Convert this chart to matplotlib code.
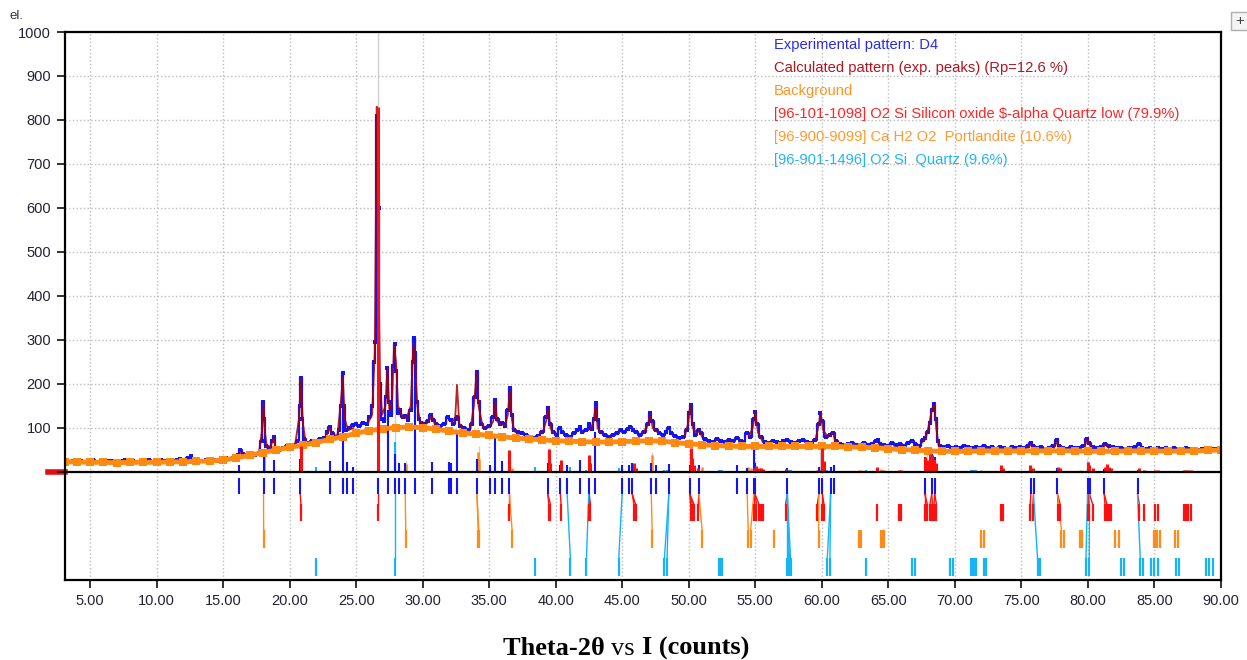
import numpy as np
import matplotlib.pyplot as plt
from matplotlib.patches import Rectangle
from matplotlib.transforms import blended_transform_factory

plt.rcParams['font.family'] = ['Liberation Sans', 'DejaVu Sans']

# experimental pattern (2theta, counts)
exp_points = [
    (3.1, 24), (3.4, 22), (3.7, 25), (4.0, 23), (4.3, 26), (4.6, 22), (4.9, 24), (5.2, 27),
    (5.5, 23), (5.8, 25), (6.1, 22), (6.4, 26), (6.7, 24), (7.0, 21), (7.3, 25), (7.6, 27),
    (7.9, 23), (8.2, 25), (8.5, 22), (8.8, 26), (9.1, 24), (9.4, 27), (9.7, 23), (10.0, 25),
    (10.3, 28), (10.6, 24), (10.9, 26), (11.2, 23), (11.5, 27), (11.8, 29), (12.1, 25),
    (12.4, 31), (12.6, 36), (12.8, 28), (13.1, 26), (13.4, 24), (13.7, 27), (14.0, 25),
    (14.3, 28), (14.6, 26), (14.9, 29), (15.2, 31), (15.5, 30), (15.8, 34), (16.1, 38),
    (16.3, 50), (16.5, 40), (16.8, 37), (17.1, 41), (17.4, 39), (17.7, 44), (17.9, 70),
    (18.0, 160), (18.1, 120), (18.25, 60), (18.5, 52), (18.7, 70), (18.8, 80), (18.95, 55),
    (19.2, 51), (19.5, 55), (19.8, 58), (20.1, 57), (20.4, 62), (20.6, 70), (20.75, 150),
    (20.85, 214), (20.95, 120), (21.1, 75), (21.4, 66), (21.7, 70), (22.0, 68), (22.3, 74),
    (22.6, 78), (22.8, 92), (23.0, 103), (23.2, 88), (23.5, 80), (23.7, 95), (23.85, 150),
    (24.0, 224), (24.1, 150), (24.25, 95), (24.5, 100), (24.8, 106), (25.0, 110), (25.2, 104),
    (25.5, 112), (25.8, 108), (26.0, 125), (26.2, 150), (26.35, 250), (26.45, 296),
    (26.6, 810), (26.7, 600), (26.8, 200), (26.95, 120), (27.1, 115), (27.25, 170),
    (27.35, 236), (27.45, 160), (27.6, 130), (27.8, 240), (27.9, 290), (28.0, 230),
    (28.15, 135), (28.3, 140), (28.5, 125), (28.7, 128), (28.9, 118), (29.1, 140),
    (29.25, 250), (29.35, 304), (29.45, 270), (29.6, 160), (29.75, 120), (29.9, 112),
    (30.1, 108), (30.4, 115), (30.6, 130), (30.8, 118), (31.0, 110), (31.3, 104), (31.6, 108),
    (31.9, 125), (32.1, 118), (32.3, 110), (32.5, 120), (32.6, 125), (32.8, 105), (33.1, 100),
    (33.4, 95), (33.7, 110), (33.9, 170), (34.05, 228), (34.2, 160), (34.4, 110), (34.7, 100),
    (35.0, 105), (35.3, 125), (35.45, 164), (35.6, 120), (35.8, 108), (36.0, 112), (36.2, 105),
    (36.4, 140), (36.55, 190), (36.7, 130), (36.9, 95), (37.2, 90), (37.5, 88), (37.8, 84),
    (38.1, 80), (38.4, 78), (38.7, 82), (39.0, 90), (39.3, 125), (39.45, 145), (39.6, 110),
    (39.8, 90), (40.1, 85), (40.3, 100), (40.5, 92), (40.8, 85), (41.1, 80), (41.4, 88),
    (41.6, 95), (41.85, 103), (42.0, 90), (42.3, 95), (42.5, 108), (42.7, 98), (42.9, 120),
    (43.0, 156), (43.15, 118), (43.4, 90), (43.7, 85), (44.0, 80), (44.3, 84), (44.6, 88),
    (44.9, 96), (45.1, 92), (45.4, 98), (45.6, 103), (45.8, 96), (46.0, 90), (46.3, 85),
    (46.6, 92), (46.9, 110), (47.1, 133), (47.25, 115), (47.5, 95), (47.8, 88), (48.1, 85),
    (48.3, 92), (48.5, 99), (48.7, 88), (49.0, 82), (49.3, 78), (49.6, 80), (49.9, 95),
    (50.05, 135), (50.15, 152), (50.3, 110), (50.5, 85), (50.75, 95), (50.9, 88), (51.2, 76),
    (51.5, 70), (51.8, 68), (52.1, 74), (52.4, 70), (52.7, 68), (53.0, 72), (53.3, 70),
    (53.6, 77), (53.9, 70), (54.1, 68), (54.4, 88), (54.6, 80), (54.9, 120), (55.0, 137),
    (55.15, 110), (55.4, 80), (55.7, 68), (56.0, 66), (56.3, 70), (56.6, 68), (56.9, 66),
    (57.1, 70), (57.4, 73), (57.7, 68), (58.0, 66), (58.3, 70), (58.6, 72), (58.9, 68),
    (59.2, 66), (59.5, 72), (59.75, 110), (59.9, 135), (60.05, 115), (60.3, 80), (60.6, 85),
    (60.85, 89), (61.1, 70), (61.4, 64), (61.7, 62), (62.0, 64), (62.3, 66), (62.6, 62),
    (62.9, 60), (63.2, 66), (63.5, 62), (63.8, 64), (64.1, 70), (64.2, 73), (64.4, 64),
    (64.7, 62), (65.0, 60), (65.3, 66), (65.6, 62), (65.9, 64), (66.2, 60), (66.5, 66),
    (66.8, 70), (67.0, 64), (67.3, 60), (67.6, 72), (67.75, 77), (67.95, 90), (68.1, 111),
    (68.3, 140), (68.4, 154), (68.55, 120), (68.7, 70), (68.9, 60), (69.2, 56), (69.5, 58),
    (69.8, 55), (70.1, 57), (70.4, 54), (70.7, 58), (71.0, 56), (71.3, 54), (71.6, 57),
    (71.9, 55), (72.2, 58), (72.5, 54), (72.8, 56), (73.1, 53), (73.4, 57), (73.7, 55),
    (74.0, 53), (74.3, 56), (74.6, 54), (74.9, 56), (75.2, 55), (75.5, 58), (75.7, 65),
    (75.9, 58), (76.2, 54), (76.5, 56), (76.8, 53), (77.1, 55), (77.4, 58), (77.65, 73),
    (77.85, 60), (78.1, 55), (78.4, 53), (78.7, 56), (79.0, 54), (79.3, 55), (79.6, 58),
    (79.9, 75), (80.1, 65), (80.4, 56), (80.7, 54), (81.0, 57), (81.3, 64), (81.6, 60),
    (81.9, 56), (82.2, 54), (82.5, 55), (82.8, 53), (83.1, 55), (83.5, 56), (83.8, 64),
    (84.1, 55), (84.4, 53), (84.7, 55), (85.0, 52), (85.3, 54), (85.6, 52), (85.9, 54),
    (86.2, 52), (86.5, 55), (86.8, 53), (87.1, 51), (87.4, 54), (87.7, 52), (88.0, 53),
    (88.3, 51), (88.6, 53), (88.9, 52), (89.2, 54), (89.5, 52), (89.8, 53), (90.0, 52),
]

# calculated pattern, drawn around the fitted peaks
calc_segments = [
    [(15.9, 34), (16.2, 40), (16.35, 46), (16.6, 38)],
    [(17.7, 44), (17.95, 100), (18.05, 155), (18.15, 90), (18.3, 55), (18.6, 60),
     (18.8, 78), (18.95, 55), (19.2, 50)],
    [(20.4, 60), (20.7, 120), (20.85, 210), (21.0, 110), (21.2, 70), (21.5, 64)],
    [(22.6, 76), (22.8, 85), (23.0, 100), (23.2, 82), (23.6, 84), (23.85, 160), (24.0, 215),
     (24.15, 120), (24.4, 95), (24.8, 100)],
    [(25.9, 112), (26.2, 130), (26.4, 270), (26.55, 830), (26.62, 650), (26.7, 420),
     (26.8, 205), (26.95, 130), (27.2, 150), (27.35, 236), (27.5, 140), (27.7, 160),
     (27.85, 288), (28.0, 250), (28.15, 150), (28.5, 125), (28.8, 122), (29.1, 150),
     (29.3, 290), (29.45, 240), (29.6, 150), (29.8, 115), (30.1, 108)],
    [(30.3, 110), (30.55, 120), (30.7, 128), (30.9, 110), (31.2, 104)],
    [(32.2, 112), (32.45, 125), (32.58, 198), (32.75, 110), (33.0, 100)],
    [(33.6, 100), (33.85, 150), (34.05, 225), (34.2, 150), (34.5, 105), (34.8, 100)],
    [(35.1, 105), (35.3, 115), (35.45, 160), (35.6, 115), (35.9, 108), (36.2, 106),
     (36.4, 130), (36.55, 185), (36.7, 120), (36.9, 92)],
    [(39.0, 88), (39.3, 118), (39.45, 145), (39.6, 100), (39.8, 88)],
    [(42.6, 96), (42.85, 115), (43.0, 150), (43.15, 100), (43.4, 88)],
    [(46.6, 90), (46.9, 105), (47.1, 130), (47.3, 100), (47.6, 92)],
    [(49.7, 82), (49.95, 110), (50.1, 150), (50.3, 100), (50.6, 88), (50.8, 94), (51.0, 80)],
    [(54.5, 80), (54.8, 100), (55.0, 135), (55.2, 90), (55.5, 72)],
    [(59.5, 70), (59.75, 105), (59.9, 133), (60.1, 95), (60.4, 82), (60.7, 85), (60.85, 88),
     (61.0, 70)],
    [(67.5, 66), (67.8, 75), (68.0, 100), (68.3, 145), (68.45, 152), (68.6, 100), (68.8, 55)],
    [(75.5, 55), (75.7, 63), (75.85, 55)],
    [(77.45, 55), (77.65, 70), (77.8, 55)],
    [(79.75, 58), (79.95, 75), (80.15, 60), (80.3, 55)],
    [(81.1, 55), (81.35, 62), (81.55, 55)],
]

# background, one point per degree
bg_2theta = np.arange(3, 91, 1.0)
bg_2theta[0] = 3.1
bg_counts = [
    23, 23, 22, 22, 21, 22, 22, 22, 23, 23, 24, 25, 27, 32, 38, 44, 50, 56, 61, 67,
    74, 80, 88, 94, 98, 101, 102, 101, 97, 93, 89, 86, 83, 80, 77, 75, 73, 71, 70, 69,
    68, 68, 69, 70, 71, 70, 67, 64, 62, 60, 59, 58, 58, 58, 58, 58, 58, 58, 58, 57,
    56, 55, 53, 51, 50, 48, 47, 47, 47, 48, 48, 48, 48, 48, 48, 48, 48, 47, 47, 47,
    48, 48, 48, 47, 48, 48, 49, 50,
]

# experimental peak list (row 1) with stick heights
peak_pos = [16.23, 18.04, 18.79, 20.80, 23.05, 24.01, 24.31, 24.76, 26.64, 27.39, 27.89,
            28.24, 28.69, 29.39, 30.70, 31.95, 32.15, 32.58, 34.08, 35.04, 35.46, 35.97,
            36.52, 39.40, 40.35, 40.86, 41.86, 42.48, 42.99, 44.99, 45.54, 45.75, 47.18,
            47.50, 48.50, 50.08, 50.76, 53.64, 54.39, 54.89, 54.97, 57.40, 59.78, 60.04,
            60.66, 60.91, 67.73, 68.26, 68.49, 75.71, 75.91, 77.71, 79.97, 80.12, 81.22,
            83.73]
peak_h = [17, 40, 27, 30, 25, 150, 22, 12, 30, 140, 40, 21, 21, 304, 22, 22, 21, 95, 30,
          16, 80, 25, 20, 20, 15, 15, 27, 20, 92, 15, 15, 20, 20, 15, 18, 15, 15, 16, 10,
          54, 20, 10, 12, 20, 12, 15, 35, 40, 35, 8, 6, 8, 12, 10, 6, 5]

# [96-101-1098] quartz low
qlow_pos = [20.85, 26.64, 36.52, 39.48, 39.60, 40.40, 42.48, 42.61, 45.87, 46.00, 50.13,
            50.26, 50.38, 50.71, 54.89, 55.09, 55.27, 55.45, 55.60, 57.28, 59.66, 60.04,
            60.16, 64.17, 65.80, 65.98, 67.73, 67.93, 68.13, 68.31, 68.43, 68.61, 73.45,
            73.65, 75.66, 75.86, 77.76, 77.91, 79.97, 80.09, 80.35, 81.28, 81.43, 81.58,
            81.73, 83.86, 84.18, 85.03, 85.24, 87.19, 87.37, 87.54, 87.74]
qlow_h = [60, 830, 50, 52, 20, 27, 38, 20, 21, 10, 55, 32, 15, 8, 10, 13, 10, 8, 6, 6, 5,
          54, 25, 12, 4, 4, 35, 27, 40, 38, 30, 20, 16, 8, 16, 10, 12, 8, 23, 15, 8, 12,
          19, 11, 8, 9, 5, 4, 4, 5, 5, 4, 4]

# [96-900-9099] portlandite
port_pos = [18.05, 28.73, 34.17, 34.22, 36.72, 47.25, 51.00, 54.47, 54.65, 56.40, 59.76,
            62.79, 62.97, 64.42, 64.55, 64.67, 71.95, 72.19, 78.01, 78.21, 79.41, 79.59,
            82.02, 82.35, 84.98, 85.10, 85.20, 85.40, 86.54, 86.74]
port_h = [45, 18, 46, 30, 10, 39, 12, 12, 8, 4, 6, 5, 4, 6, 4, 4, 4, 3, 4, 3, 4, 3, 3, 3,
          3, 3, 3, 3, 3, 3]

# [96-901-1496] quartz
quartz_pos = [22.00, 27.89, 38.47, 41.10, 42.31, 44.74, 48.17, 48.37, 52.26, 52.34, 52.42,
              52.51, 57.40, 57.48, 57.56, 57.65, 60.41, 60.61, 63.30, 66.80, 67.00, 69.64,
              69.84, 71.20, 71.30, 71.40, 71.50, 71.60, 72.20, 72.37, 76.21, 76.41, 79.85,
              80.10, 82.48, 82.68, 83.93, 84.13, 84.74, 84.94, 85.24, 86.62, 86.87, 88.87,
              89.12, 89.37]
quartz_h = [12, 69, 11, 11, 5, 10, 4, 4, 4, 4, 4, 4, 5, 5, 5, 5, 4, 3, 4, 2, 2, 3, 3, 4, 4,
            4, 4, 4, 3, 3, 3, 3, 3, 3, 2, 2, 2, 2, 2, 2, 2, 2, 2, 2, 2, 2]

# light grey reference sticks
grey_pos = [18.1, 26.62, 27.92, 28.75, 34.2, 39.43, 47.22, 50.12, 59.85, 67.9, 79.95]
grey_h = [60, 1000, 200, 25, 60, 55, 45, 60, 50, 60, 30]

legend_lines = [
    ('Experimental pattern: D4', '#2b2be8'),
    ('Calculated pattern (exp. peaks) (Rp=12.6 %)', '#b3141e'),
    ('Background', '#ff9326'),
    ('[96-101-1098] O2 Si Silicon oxide $-alpha Quartz low (79.9%)', '#ff2626'),
    ('[96-900-9099] Ca H2 O2  Portlandite (10.6%)', '#ff9a33'),
    ('[96-901-1496] O2 Si  Quartz (9.6%)', '#22b4f5'),
]

BLUE = '#1414f0'
CALC = '#a80000'
ORANGE = '#ff8a12'
RED = '#ff1010'
PORT = '#ff8c1a'
CYAN = '#14b4f5'

rows = {'blue': (-50, -14), 'red': (-111, -73), 'port': (-173, -132), 'cyan': (-236, -196)}

fig = plt.figure(figsize=(12.47, 6.6), dpi=100)
ax = fig.add_axes([65 / 1247, 80 / 660, 1156 / 1247, 548 / 660])
ax.set_xlim(3.12, 90.0)
ax.set_ylim(-245.5, 1000)

ax.grid(True, ls=':', color='#bcbcbc', lw=1, zorder=0)
ax.axhline(0, color='black', lw=1.6, zorder=7)

# sticks above the baseline
ax.vlines(grey_pos, 0, grey_h, colors='#cfcfcf', lw=1, zorder=1)
ax.vlines(quartz_pos, 0, quartz_h, colors=CYAN, lw=1.5, zorder=2)
ax.vlines(port_pos, 0, port_h, colors=PORT, lw=1.8, zorder=2)
ax.vlines(peak_pos, 0, peak_h, colors=BLUE, lw=1.5, zorder=2)

# patterns
ex, ey = zip(*exp_points)
ax.plot(ex, ey, color=BLUE, lw=1.6, drawstyle='steps-mid', zorder=3)
ax.plot(ex, ey, ls='none', color=BLUE, marker='s', ms=2.4, mew=0, zorder=3)
for seg in calc_segments:
    sx, sy = zip(*seg)
    ax.plot(sx, sy, color=CALC, lw=1.3, alpha=0.85, zorder=4)
ax.plot(bg_2theta, bg_counts, color=ORANGE, lw=3.5, marker='s', ms=6, mew=0, zorder=5)
ax.vlines(qlow_pos, 0, qlow_h, colors=RED, lw=2.2, zorder=6)

# reflection marker rows below the baseline
ax.vlines(peak_pos, *rows['blue'], colors=BLUE, lw=1.5, zorder=3)
for pos_list, key, col in [(qlow_pos, 'red', RED), (port_pos, 'port', PORT),
                           (quartz_pos, 'cyan', CYAN)]:
    ax.vlines(pos_list, *rows[key], colors=col, lw=1.6, zorder=3)
    for p in pos_list:
        b = min(peak_pos, key=lambda v: abs(v - p))
        if abs(b - p) < 0.35:
            ax.plot([b, p], [rows['blue'][0], rows[key][1]], color=col, lw=1.0, zorder=2)

# red zero marker left of the axis
trans = blended_transform_factory(ax.transAxes, ax.transData)
ax.plot([-0.015, 0], [0, 0], color='#e01010', lw=4, transform=trans, clip_on=False, zorder=1)

ax.set_xticks(np.arange(5, 91, 5))
ax.set_xticklabels([f'{v:.2f}' for v in np.arange(5, 91, 5)])
ax.set_yticks(np.arange(0, 1001, 100))
ax.set_yticklabels([''] + [str(v) for v in range(100, 1001, 100)])
ax.tick_params(direction='out', length=6, width=1.2, labelsize=10.5, pad=4,
               colors='#111111', labelcolor='#222233')
for s in ax.spines.values():
    s.set_linewidth(1.6)
    s.set_zorder(8)

for i, (txt, col) in enumerate(legend_lines):
    fig.text(774 / 1247, 1 - (45 + 23 * i) / 660, txt, color=col, fontsize=10.6, va='center')

fig.text(10 / 1247, 1 - 19 / 660, 'el.', fontsize=9.5, color='#333344', va='baseline')
fig.patches.append(Rectangle((1231 / 1247, 1 - 30 / 660), 30 / 1247, 18 / 660,
                             transform=fig.transFigure, facecolor='#f4f4f4',
                             edgecolor='#b0b0b0', lw=1))
fig.text(1240 / 1247, 1 - 21 / 660, '+', fontsize=11, color='#444444', ha='center', va='center')

t1 = fig.text(503 / 1247, 1 - 655 / 660, 'Theta-2θ ', family='Liberation Serif',
              fontweight='bold', fontsize=19, va='baseline')
t2 = ax.annotate('vs ', xy=(1, 0), xycoords=t1, va='bottom', family='Liberation Serif',
                 fontsize=19)
ax.annotate('I (counts)', xy=(1, 0), xycoords=t2, va='bottom', family='Liberation Serif',
            fontweight='bold', fontsize=19)

fig.savefig('out.png', dpi=100)
